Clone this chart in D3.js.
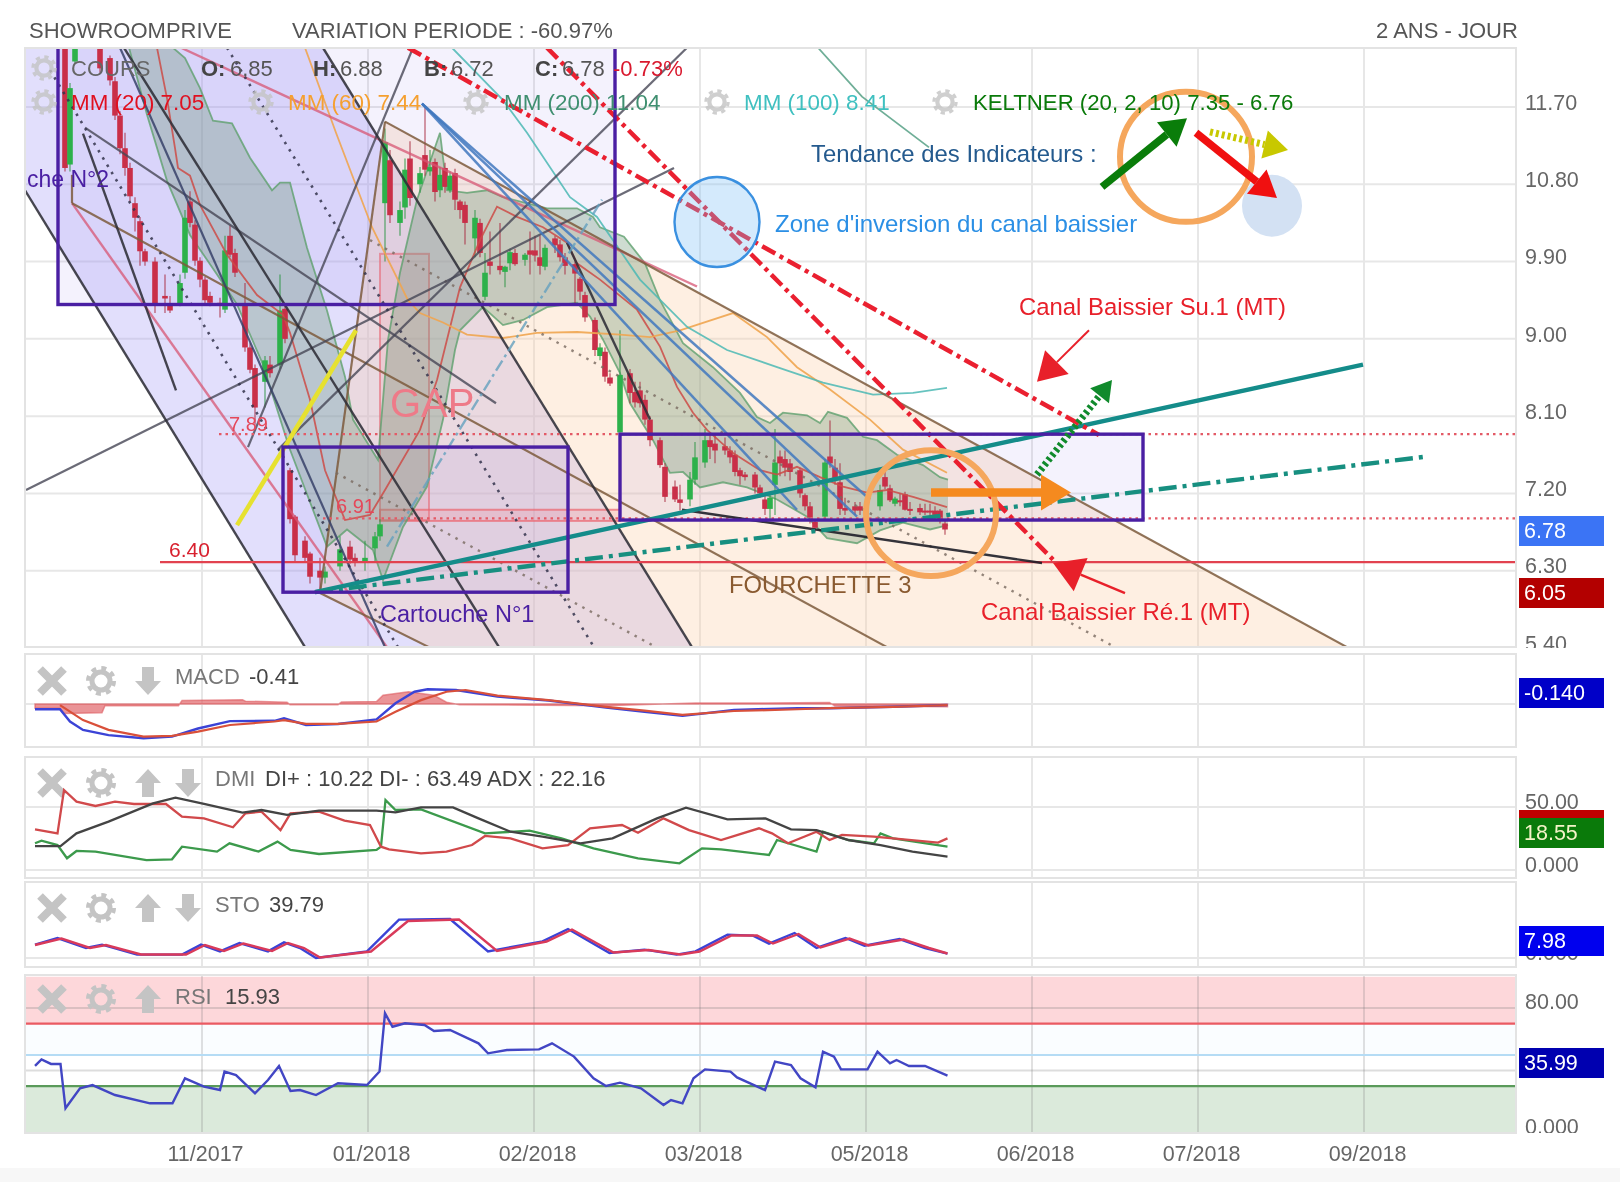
<!DOCTYPE html>
<html><head><meta charset="utf-8">
<script src="https://d3js.org/d3.v7.min.js"></script>
<style>
html,body{margin:0;padding:0;background:#fff}
svg{display:block;filter:blur(0.55px)}
text{font-family:"Liberation Sans",Arial,sans-serif}
</style></head><body>
<svg id="c" width="1620" height="1182"></svg>
<script>
// ---------- tick labels ----------
const tickBars=[33.4,66.6,99.8,133,166.2,199.4,232.6,265.8];
const tickLabels=["11/2017","01/2018","02/2018","03/2018","05/2018","06/2018","07/2018","09/2018"];
const priceTicks=[11.7,10.8,9.9,9,8.1,7.2,6.3,5.4];
// ---------- candles ----------
const candleBar=[6,7,8,13,15,16,17,18,19,20,21,22,24,26,27,29,30,31,32,33,34,35,37,38,39,40,42,43,44,46,47,49,50,51,52,54,55,57,58,61,63,64,66,68,69,70,71,73,74,75,77,78,79,80,81,82,83,84,85,86,88,89,90,91,93,94,95,96,98,99,100,101,102,104,105,106,108,109,110,112,113,114,115,117,119,120,121,122,123,125,126,128,129,131,132,134,135,136,138,139,140,141,142,144,145,146,147,148,149,150,151,153,154,155,156,158,159,160,161,162,164,165,169,170,171,172,173,174,175,177,178,179,180,181,182];
const candleOpen=[12.6,11.03,12.23,12.5,12.27,12,11.6,11.22,10.99,10.58,10.37,10.02,9.9,9.5,9.4,9.4,9.77,10.6,10.33,9.91,9.69,9.5,9.42,9.34,10.2,10,9.4,8.9,8.66,8.5,8.7,8.7,9.35,7.47,6.93,6.65,6.5,6.3,6.22,6.35,6.58,6.45,6.4,6.56,6.7,10.58,11.08,10.35,10.53,11.1,10.8,11.14,10.95,11.06,10.73,10.99,10.73,10.93,10.6,10.56,10.17,10.35,9.49,9.9,9.85,9.78,9.88,10,9.92,10.03,10.03,9.95,9.84,10.17,10.1,9.95,9.87,9.7,9.51,9.22,8.8,8.85,8.55,7.91,8.6,8.38,8.4,8.29,8.06,7.82,7.51,7.28,7.13,7.13,7.36,7.56,7.82,7.78,7.75,7.7,7.65,7.47,7.42,7.42,7.27,7.13,7.02,7.3,7.63,7.6,7.55,7.47,7.18,7.05,6.87,6.93,7.63,7.5,7.33,7.03,7.05,7.05,7.05,7.39,7.26,7.08,7.12,7.19,7.02,7.03,7,7,7,7,6.85];
const candleHigh=[12.7,11.98,12.6,12.6,12.3,12.05,11.65,11.4,11.05,10.65,10.42,10.05,9.95,9.75,9.5,9.75,10.5,10.72,10.38,9.95,9.72,9.55,9.48,10.2,10.32,10.05,9.65,8.95,8.7,8.8,8.8,9.75,9.4,7.5,6.95,6.7,6.52,6.45,6.35,6.7,6.65,6.5,6.65,6.75,6.9,11.45,11.2,10.6,11.1,11.3,11,11.7,11.2,11.1,11,11.05,10.95,10.98,10.62,10.6,10.5,10.4,10,10.25,10.35,9.85,10.05,10.05,10,10.25,10.2,10.2,10.1,10.2,10.15,10,9.9,9.72,9.55,9.25,8.95,8.9,8.6,9.1,8.65,8.5,8.5,8.35,8.1,7.85,7.55,7.35,7.3,7.45,7.8,7.95,7.9,7.88,7.85,7.75,7.7,7.5,7.45,7.45,7.3,7.2,7.2,7.95,7.7,7.7,7.6,7.5,7.2,7.1,6.9,7.6,8.05,7.6,7.55,7.15,7.1,7.1,7.3,7.5,7.3,7.16,7.2,7.22,7.1,7.08,7.08,7.08,7.05,7.02,6.88];
const candleLow=[10.95,10.95,12.2,12.1,11.95,11.55,11.15,10.9,10.6,10.25,9.85,9.85,9.3,9.3,9.3,9.38,9.7,10.3,9.85,9.6,9.4,9.38,9.25,9.3,9.95,9.72,8.85,8.6,8,8.2,8.55,8.65,8.95,6.85,6.4,6.4,6.15,6.05,6.15,6.3,6.38,6.35,6.3,6.4,6.65,9.9,10.35,10.2,10.4,10.55,10.7,10.9,10.9,10.6,10.65,10.7,10.7,10.5,10.4,10.1,9.95,9.95,9.45,9.75,9.75,9.6,9.8,9.85,9.85,9.75,9.9,9.75,9.8,10,9.9,9.75,9.4,9.45,9.2,8.8,8.75,8.5,8.45,7.91,8.25,8.2,8.2,8,7.75,7.5,7.1,7.1,7,7.05,7.3,7.5,7.6,7.55,7.65,7.55,7.4,7.3,7.35,7.2,7.15,6.95,6.9,6.95,7.4,7.4,7.35,7.15,7,6.85,6.75,6.9,7.5,7.3,6.95,6.95,6.95,6.95,7,7.25,7.1,7.05,7.05,7,6.95,6.95,6.95,6.9,6.9,6.85,6.72];
const candleClose=[10.99,11.92,12.5,12.15,12.01,11.6,11.22,10.99,10.66,10.41,10.02,9.9,9.4,9.47,9.33,9.65,10.41,10.35,9.91,9.69,9.45,9.42,9.4,10.03,9.98,9.77,8.9,8.64,8.2,8.75,8.6,9.33,9,6.9,6.48,6.45,6.23,6.22,6.29,6.55,6.43,6.4,6.45,6.7,6.84,11.29,10.44,10.5,10.97,10.64,10.93,10.97,11,10.71,10.91,10.77,10.9,10.62,10.5,10.35,10.41,10,9.77,9.85,9.8,9.84,10.01,9.87,9.98,9.98,9.97,9.85,10.06,10.09,9.95,9.85,9.76,9.55,9.25,8.87,8.9,8.56,8.48,8.58,8.37,8.26,8.25,8.06,7.82,7.53,7.16,7.13,7.09,7.36,7.62,7.82,7.74,7.7,7.7,7.62,7.45,7.4,7.39,7.27,7.2,7.02,7.15,7.56,7.55,7.5,7.45,7.2,7.05,6.92,6.8,7.56,7.55,7.38,7.02,7,7,7,7.24,7.28,7.12,7.14,7.1,7.01,7,6.98,6.98,6.98,6.95,6.9,6.78];
// ---------- moving averages ----------
const mm20Bar=[24.4,26.4,28,28.6,31,33,38.4,44.4,49.6,51,55,58,62,67,70,77,80.4,85,89,92.4,96.4,101.6,106.4,108.4,113,120.4,125,128.4,131.6,134.4,139.6,145,148.4,152.4,157,161.6,166.4,170.4,175.6,182.4];
const mm20Val=[12.39,11.8,11.22,10.99,10.9,10.56,9.98,9.51,9.28,9.07,8.29,7.47,6.89,6.95,7.24,7.94,8.52,9.6,10.15,10.54,10.42,10.3,10.12,9.88,9.69,9.34,8.91,8.44,8.14,7.94,7.67,7.47,7.42,7.51,7.39,7.28,7.21,7.24,7.16,7.04];
const mm60Bar=[54,60.2,67.4,74.6,77,81.6,86.4,93.6,100.4,108.4,117,123,129,139.6,146.4,152.4,159,167,173.6,182.4];
const mm60Val=[12.39,11.4,10.3,9.45,9.3,9.19,9.05,9.01,9.07,9.08,9.05,9.02,9.1,9.3,9.02,8.67,8.41,8.06,7.71,7.44];
const mm100Bar=[83.4,93.6,98.4,107,112.4,121,130.4,138.4,149,157.6,167.6,175.6,182.4];
const mm100Val=[12.39,11.78,11.4,10.65,10.42,9.69,9.14,8.87,8.66,8.49,8.35,8.37,8.43];
const mm200Bar=[156.6,165.4,178.8];
const mm200Val=[12.39,11.82,11.23];
const keltUpBar=[27.6,30,33,35.6,39.4,43,47.4,49,51,54.4,58.4,62,63.6,68.6,70.6,73,76.4,81,82.4,86.4,90.4,93.6,102.4,108.4,111.6,113,117.8,122,125,129.6,135.6,141,144.4,147,149.6,154.4,157,158.6,162.4,165.6,168.4,172.4,177.6,181,182.6];
const keltUpVal=[12.39,12.27,11.92,11.54,11.51,11.11,10.73,10.82,10.82,10.06,9.33,8.56,8.06,7.59,8.99,9.77,10.62,11.4,10.73,10.7,10.73,10.65,10.52,10.52,10.42,10.3,10.19,9.88,9.45,8.95,8.67,8.37,8.09,8.02,8.14,8.11,8.02,8.15,8.08,7.86,7.82,7.65,7.53,7.39,7.36];
const keltLoBar=[18.8,22.4,26.4,31,36.4,40.4,45.6,50.8,58.4,62.4,67.6,69.6,73.6,78.4,81.6,84,85,89.6,93.6,97.6,102.4,108.4,111,113.6,117,119,123.6,127,129.6,133,137.6,142.4,148.4,154.4,158.4,164.4,169,173.6,179,182.6];
const keltLoVal=[12.39,11.61,10.84,10.21,9.75,9.4,8.7,7.74,6.58,6.78,6.54,6.19,6.81,7.28,8.06,8.87,9.1,9.37,9.16,9.22,9.37,9.42,9.26,8.99,8.6,8.25,7.82,7.44,7.45,7.27,7.33,7.27,7.13,6.93,6.68,6.62,6.77,6.86,6.78,6.83];
// ---------- drawn trend lines: bar, price, bar, price ----------
const darkLines=[[-2,10.73,54,5.41],[57.6,12.39,131.4,5.41],[17.8,12.39,92.8,5.41],[9.6,11.39,28.2,8.4],[106.4,10.12,123,8.06]];
const slateLines=[[17,12.39,70,5.41]];
const greyLines=[[10,11.46,92.2,8.25],[-1.8,7.24,127.8,10.99],[130.4,12.39,48.6,7.71],[75.6,12.39,42.6,7.74]];
const dottedDark=[[38.4,12.39,111.8,5.41],[3,12.13,72.6,5.41]];
const dottedBrown=[[67,10.15,216,5.41],[60.2,7.44,124.2,5.41]];
const brownLines=[[70,11.53,262.4,5.41],[7.4,10.58,170.4,5.41],[7.4,10.91,7.4,10.58],[57,6.04,78.8,5.41],[70,11.53,57,6.04]];
const pinkLines=[[7.4,10.58,70.4,5.41],[29.2,12.39,132.4,9.61]];
const blueFan=[[77.4,11.74,167,7.13],[77.4,11.74,164.4,6.93],[77.4,11.74,152.4,7.01]];
const tealSolid=[[56,6.05,265.6,8.7]];
const tealDash=[[56,6.05,278.4,7.63]];
const lightDash=[[70.4,6.58,113.4,10.62]];
const blackSupport=[[129.4,7.01,201.4,6.39]];
const redDash=[[74.6,12.39,212.8,7.88],[102.4,12.39,203.6,6.43]];
const yellowLine=[[40.4,6.83,64.2,9.1]];
const dottedLevels=[[36.8,7.89,296.2,7.89],[57.6,6.91,296.2,6.91]];
const supportLevel=[[25,6.4,296.2,6.4]];
const lavenderChannel=[[-2,12.39],[57.6,12.39],[131.4,5.41],[54,5.41],[-2,10.73]];
const forkChannel=[[70,11.53],[262.4,5.41],[78.8,5.41],[57,6.04]];
// cartouches: bar0, bar1, price top, price bottom
const cartouches=[[4.6,116,12.6,9.4],[49.6,106.6,7.74,6.05],[117,221.6,7.89,6.89]];
const gapBox=[69,78.8,9.99,6.89];
const gapBand=[69,117,7.01,6.88];
// ellipses: bar, price, bar radius, price radius
const blueCircles=[[136.4,10.36,8.5,.524]];
const paleCircles=[[247.4,10.55,6,.36]];
const orangeRings=[[230.2,11.12,13.2,.757],[179.2,6.97,13,.733]];
// arrows: bar, price, bar, price
const arrowGreen=[213.4,10.77,230.4,11.57];
const arrowRed=[232.2,11.4,248.4,10.64];
const arrowYellow=[235,11.41,250.6,11.2];
const arrowOrange=[179.2,7.21,207.2,7.21];
const arrowGreenDot=[200.4,7.42,215.4,8.52];
const calloutUp=[210.8,9.1,200.4,8.5];
const calloutDown=[218,6.04,203.6,6.39];
// ---------- MACD ----------
const macdBar=[0,5,7,9.6,14.7,21.7,27.4,32.6,39,47.9,49.8,54.2,60.6,68.3,72.1,75.9,78.5,84.2,92.5,102.7,114.2,121.9,129.5,139.8,152.5,158.9,171.6,182.5];
const macdVal=[-.15,-.15,-.5,-.74,-.89,-.98,-.93,-.7,-.49,-.48,-.41,-.6,-.57,-.44,.02,.35,.42,.4,.21,.1,-.1,-.22,-.34,-.17,-.12,-.12,-.08,-.03];
const signalBar=[5,9.6,14.7,21.7,27.4,32.6,39,47.9,49.8,54.2,60.6,68.3,72.1,77.2,82.3,86.1,92.5,102.7,114.2,121.9,129.5,139.8,152.5,158.9,171.6,182.5];
const signalVal=[-.03,-.46,-.74,-.93,-.91,-.79,-.6,-.5,-.46,-.57,-.57,-.5,-.22,.11,.35,.4,.24,.11,-.08,-.19,-.31,-.2,-.15,-.12,-.08,-.03];
const histBar=[0,5,5.8,13.4,14,28.7,29.4,41.5,42.1,50.4,51,60.6,61.3,68.3,69.6,74.7,79.8,82.3,84.9,114.2,132.1,146.1,158.9,160,182.5];
const histVal=[-.12,-.12,-.27,-.25,-.05,-.05,.1,.12,.08,.05,-.02,-.02,.06,.07,.25,.35,.25,.05,-.02,-.05,.03,.03,.04,-.06,-.08];
// ---------- DMI ----------
const diMinusBar=[0,4.5,5.8,8.3,12.1,16,19.8,26.2,29.4,33.8,39.6,42.1,45.3,49.1,51.1,56.8,61.9,67,69.2,70.8,77.2,82.3,87.4,90,95.1,101.5,106.6,111,117.4,120.6,125.7,130.8,137.2,144.8,147.4,150.6,156.3,158.9,161.4,167.8,171.6,180.6,182.5];
const diMinusVal=[32.3,29.1,63.5,54.2,50.8,54.2,52.4,52.4,42.3,41,33.9,45,46.3,31.7,45,46.3,39.2,35.7,18.5,16.4,13.2,14.6,19.8,27,25.1,17.2,19.8,33.1,35.7,29.6,41,31.7,23.8,33.1,29.1,21.2,30.4,23.8,27.8,26.5,25.1,21.7,25.1];
const diPlusBar=[0,1.3,4.5,6.4,8.3,12.1,22.3,27.4,29.4,36.4,38.9,44.7,48.5,51.1,56.8,68.3,69.2,70.1,72.1,77.2,90,98.9,105.3,111.7,120.6,128.9,133.4,137.2,146.8,148.4,156.3,157.6,162.7,167.8,169.1,171.6,182.5];
const diPlusVal=[21.2,23.3,19.8,9.3,15.1,14.6,7.9,8.5,18.5,14.6,21.2,14.6,22.5,15.9,12.7,15.9,18.5,55.6,47.6,48.1,29.1,31.2,25.1,17.2,9.3,5.3,17.2,16.4,11.9,23.8,14.6,30.4,23.8,21.2,29.1,25.1,18.5];
const adxBar=[0,5.1,8.3,14.7,23.6,28.1,33.8,41.5,45.3,50.4,56.8,68.3,72.1,77.2,83.6,88.7,95.1,101.5,109.1,115.5,124.4,130.2,138.5,146.1,151.2,156.3,162.7,169.1,175.5,182.5];
const adxVal=[19,19,29.1,38.4,52.9,57.4,52.4,45.5,47.6,43.7,47.1,47.1,45.8,49.7,49.7,41,30.4,26.5,21.2,25.1,41,49.5,40.2,41,32.3,31.7,23.8,19.8,14.6,10.6];
// ---------- STO ----------
const stoBar=[0,4.5,10.2,13.4,20.4,29.4,33.2,37,40.9,46.6,49.8,53,56.2,66.4,72.8,83,90.6,101.5,106.6,114.9,121.9,128.3,132.1,138.5,143.6,146.8,151.9,156.3,162.1,165.9,172.9,178,182.5];
const stoVal=[26.7,40,20,26.7,6.7,6.7,26.7,13.3,30,13.3,31.3,20,0,13.3,76.7,78,13.3,33.3,58,10,16.7,6.7,13.3,46.7,44.7,28.7,50,20,40,24.7,38,20,8.7];
const stoSigBar=[0,5.3,11,14.2,21.2,30.2,34,37.8,41.7,47.4,50.6,53.8,57,67.2,74.6,84.8,92.4,102.3,107.4,115.7,122.7,129.1,132.9,139.3,144.4,147.6,152.7,157.1,162.9,166.7,173.7,178.8,182.5];
const stoSigVal=[26,39,20,26,7,7,26,14,29,14,30,20,1,13,74,77,14,33,57,11,16,7,13,45,45,29,48,21,39,25,37,20,9];
// ---------- RSI ----------
const rsiBar=[0,1.3,3.2,5.1,6.1,9,11.5,16,23,27.5,30,33.8,37,37.9,40.2,44,46.6,48.8,51.1,53,56.2,60.6,66.4,68.9,70,71.5,74,77.9,79.8,83,88.7,90.6,94.4,100.8,103.4,107.8,111.7,114.2,117,121.2,125.7,127.2,129.5,131.7,134,139.1,140.4,146,148,151.2,153.1,156.1,157.6,159.8,161.2,166.5,168.5,171,172.3,174.8,178,182.5];
const rsiVal=[42.9,47.1,44.2,44.2,15.8,28.6,30.7,24.3,19,19,35,29.7,27.5,39.3,37.1,25.4,33.9,42.9,26.9,27.5,24.3,31.8,30.7,39.3,76.6,68,70.2,69.1,65.3,65.9,57.4,51,53.1,53.5,57.4,48.9,35,30.1,32.2,28.6,17.9,21.1,19,35,40.7,39.3,35.6,27.5,45.7,43.5,35,29.2,52.1,48.9,40.7,40.7,52.1,44.6,46.7,42.9,42.9,36.7];

// ================= drawing =================
const svg=d3.select("#c");
const PL=25,PR=1516;
const x=d3.scaleLinear().domain([0,296.2]).range([35,PR]);
const yP=d3.scaleLinear().domain([11.7,5.4]).range([107,648]);
const yM=d3.scaleLinear().domain([0,-1]).range([704,739]);
const yD=d3.scaleLinear().domain([50,0]).range([807,870]);
const yS=d3.scaleLinear().domain([0,80]).range([958,918]);
const yR=d3.scaleLinear().domain([80,0]).range([1008,1133]);
const GRID="#e7e7e7";

svg.append("rect").attr("x",0).attr("y",1168).attr("width",1620).attr("height",14).attr("fill","#f7f7f7");
const panels=[[48,647],[654,747],[757,878],[882,967],[975,1133]];
const defs=svg.append("defs");
panels.forEach((p,i)=>defs.append("clipPath").attr("id","clip"+i).append("rect").attr("x",PL).attr("y",p[0]).attr("width",PR-PL).attr("height",p[1]-p[0]));

panels.forEach(p=>svg.append("rect").attr("x",PL).attr("y",p[0]).attr("width",PR-PL).attr("height",p[1]-p[0]).attr("fill","#fff"));
svg.append("rect").attr("x",PL).attr("y",yR(100)).attr("width",PR-PL).attr("height",yR(70)-yR(100)).attr("fill","#fdd7da").attr("clip-path","url(#clip4)");
svg.append("rect").attr("x",PL).attr("y",yR(70)).attr("width",PR-PL).attr("height",yR(50)-yR(70)).attr("fill","#fafdff");
svg.append("rect").attr("x",PL).attr("y",yR(30)).attr("width",PR-PL).attr("height",yR(0)-yR(30)).attr("fill","#dbeadb");

function grid(i,yScale,vals){
  const p=panels[i];
  const g=svg.append("g").attr("clip-path","url(#clip"+i+")");
  g.selectAll("line.v").data(tickBars).join("line").attr("x1",d=>x(d)).attr("x2",d=>x(d)).attr("y1",p[0]).attr("y2",p[1]).attr("stroke",i===4?"rgba(120,120,120,.22)":GRID).attr("stroke-width",2);
  g.selectAll("line.h").data(vals).join("line").attr("x1",PL).attr("x2",PR).attr("y1",d=>yScale(d)).attr("y2",d=>yScale(d)).attr("stroke",i===4?"rgba(120,120,120,.25)":GRID).attr("stroke-width",2);
}
grid(0,yP,priceTicks);grid(1,yM,[0]);grid(2,yD,[50,0]);grid(3,yS,[0]);grid(4,yR,[80,40]);

// price chart
const g=svg.append("g").attr("clip-path","url(#clip0)");
const poly=d3.line().x(d=>x(d[0])).y(d=>yP(d[1]));
g.append("path").attr("d",poly(lavenderChannel)+"Z").attr("fill","rgba(165,155,245,.32)");
g.append("path").attr("d",poly(forkChannel)+"Z").attr("fill","rgba(252,205,165,.32)");
g.selectAll("rect.cf").data(cartouches).join("rect").attr("x",d=>x(d[0])).attr("y",d=>yP(d[2])).attr("width",d=>x(d[1])-x(d[0])).attr("height",d=>yP(d[3])-yP(d[2])).attr("fill","rgba(110,90,235,.08)");
g.append("rect").attr("x",x(gapBox[0])).attr("y",yP(gapBox[2])).attr("width",x(gapBox[1])-x(gapBox[0])).attr("height",yP(gapBox[3])-yP(gapBox[2])).attr("fill","rgba(235,130,145,.16)").attr("stroke","rgba(230,110,125,.65)").attr("stroke-width",2);
g.append("rect").attr("x",x(gapBand[0])).attr("y",yP(gapBand[2])).attr("width",x(gapBand[1])-x(gapBand[0])).attr("height",yP(gapBand[3])-yP(gapBand[2])).attr("fill","rgba(240,130,140,.22)").attr("stroke","rgba(235,100,110,.7)").attr("stroke-width",2);
const kUp=d3.zip(keltUpBar,keltUpVal), kLo=d3.zip(keltLoBar,keltLoVal);
g.append("path").attr("d",poly(kUp.concat(kLo.slice().reverse()))+"Z").attr("fill","rgba(105,150,115,.33)");
[kUp,kLo].forEach(k=>g.append("path").attr("d",poly(k)).attr("fill","none").attr("stroke","rgba(95,160,110,.8)").attr("stroke-width",1.8));
// candles
const candles=candleBar.map((b,i)=>({b,o:candleOpen[i],h:candleHigh[i],l:candleLow[i],c:candleClose[i]}));
const colour=d=>d.c>=d.o?"#2db14b":"#c92f48";
g.selectAll("line.w").data(candles).join("line").attr("x1",d=>x(d.b)).attr("x2",d=>x(d.b)).attr("y1",d=>yP(d.h)).attr("y2",d=>yP(d.l)).attr("stroke",d=>d3.color(colour(d)).darker(.5)).attr("stroke-opacity",.65).attr("stroke-width",1.4);
g.selectAll("rect.b").data(candles).join("rect").attr("x",d=>x(d.b)-2.8).attr("width",5.6).attr("y",d=>yP(Math.max(d.o,d.c))).attr("height",d=>Math.max(2,Math.abs(yP(d.o)-yP(d.c)))).attr("fill",colour);
function series(bars,vals,col,w){g.append("path").attr("d",poly(d3.zip(bars,vals))).attr("fill","none").attr("stroke",col).attr("stroke-width",w);}
series(mm20Bar,mm20Val,"rgba(205,75,70,.85)",1.8);
series(mm60Bar,mm60Val,"rgba(240,165,80,.9)",1.8);
series(mm100Bar,mm100Val,"rgba(75,185,180,.85)",1.8);
series(mm200Bar,mm200Val,"rgba(95,165,140,.9)",1.8);
function lines(data,col,w,dash){
  g.selectAll(null).data(data).join("line").attr("x1",d=>x(d[0])).attr("y1",d=>yP(d[1])).attr("x2",d=>x(d[2])).attr("y2",d=>yP(d[3])).attr("stroke",col).attr("stroke-width",w).attr("stroke-dasharray",dash||null);
}
lines(pinkLines,"rgba(215,85,115,.75)",2.4);
lines(brownLines,"rgba(125,90,60,.85)",2.2);
lines(dottedBrown,"rgba(120,105,95,.8)",2.4,"2.5 6");
lines(greyLines,"rgba(70,70,85,.8)",2.2);
lines(slateLines,"rgba(55,65,105,.85)",2.2);
lines(darkLines,"rgba(45,45,55,.88)",2.4);
lines(dottedDark,"rgba(50,50,75,.85)",2.6,"2.5 6");
lines(blueFan,"rgba(65,120,190,.85)",2.5);
lines(lightDash,"rgba(100,160,190,.8)",2.4,"12 4 3 4");
lines(dottedLevels,"#e35a66",2.2,"2.5 4");
lines(supportLevel,"#e2424f",2.2);
lines(yellowLine,"#e6e130",4.5);
lines(blackSupport,"rgba(30,30,40,.9)",2.4);
lines(tealSolid,"#148c8a",4.4);
lines(tealDash,"#178f80",4.4,"18 6 4 6");
lines(redDash,"#ea2030",4.5,"15 5 4 5");
g.selectAll("rect.cs").data(cartouches).join("rect").attr("x",d=>x(d[0])).attr("y",d=>yP(d[2])).attr("width",d=>x(d[1])-x(d[0])).attr("height",d=>yP(d[3])-yP(d[2])).attr("fill","none").attr("stroke","#4a1fa3").attr("stroke-width",3.4);
function ells(data,fill,stroke,w){
  svg.append("g").selectAll("ellipse").data(data).join("ellipse").attr("cx",d=>x(d[0])).attr("cy",d=>yP(d[1])).attr("rx",d=>x(d[2])-x(0)).attr("ry",d=>yP(0)-yP(d[3])).attr("fill",fill).attr("stroke",stroke).attr("stroke-width",w);
}
ells(paleCircles,"#d3e1f3","none",0);
ells(blueCircles,"rgba(120,190,245,.32)","#3a90e0",2.4);
ells(orangeRings,"none","#f5a75d",6);
function arrow(a,col,w,head,dash){
  const x0=x(a[0]),y0=yP(a[1]),x1=x(a[2]),y1=yP(a[3]);
  const ang=Math.atan2(y1-y0,x1-x0),c=Math.cos(ang),s=Math.sin(ang);
  const bx=x1-head*c,by=y1-head*s,hw=head*.6;
  svg.append("line").attr("x1",x0).attr("y1",y0).attr("x2",bx).attr("y2",by).attr("stroke",col).attr("stroke-width",w).attr("stroke-dasharray",dash||null);
  svg.append("path").attr("d",d3.line()([[x1,y1],[bx-hw*s,by+hw*c],[bx+hw*s,by-hw*c]])+"Z").attr("fill",col);
}
arrow(arrowGreen,"#0a7d0a",7.5,26);
arrow(arrowRed,"#f01010",7.5,26);
arrow(arrowYellow,"#c8c800",7,24,"3 3");
arrow(arrowOrange,"#f58a1f",8.5,30);
arrow(arrowGreenDot,"#108a2c",7,20,"3 3");
arrow(calloutUp,"#e8202a",2,28);
arrow(calloutDown,"#e8202a",2.4,30);

function T(s,px,py,fs,col,opt){const t=svg.append("text").attr("x",px).attr("y",py).attr("font-size",fs).attr("fill",col).text(s);if(opt&&opt.w)t.attr("font-weight",opt.w);return t;}
T("SHOWROOMPRIVE",29,38,22,"#555");
T("VARIATION PERIODE : -60.97%",292,38,22,"#555");
T("2 ANS - JOUR",1376,38,22,"#555");
T("COURS",71,76,22,"#666");
T("O:",201,76,22,"#444",{w:"bold"});T("6.85",230,76,22,"#555");
T("H:",313,76,22,"#444",{w:"bold"});T("6.88",340,76,22,"#555");
T("B:",424,76,22,"#444",{w:"bold"});T("6.72",451,76,22,"#555");
T("C:",535,76,22,"#444",{w:"bold"});T("6.78",562,76,22,"#555");
T("-0.73%",613,76,22,"#d9182d");
T("MM (20)  7.05",71,110,22.4,"#e01020");
T("MM (60)  7.44",288,110,22.4,"#f5a030");
T("MM (200)  11.04",504,110,22.4,"#3f8f70");
T("MM (100)  8.41",744,110,22.4,"#3fc0c0");
T("KELTNER (20, 2, 10)  7.35 - 6.76",973,110,22.2,"#0a7a0a");
T("Tendance des Indicateurs :",811,162,23.9,"#245a8e");
T("Zone d'inversion du canal baissier",775,232,24,"#2b8fe5");
T("che N°2",27,187,23,"#4a1fa3");
T("Cartouche N°1",380,622,23.5,"#4a1fa3");
T("FOURCHETTE 3",729,593,23.8,"#8a5a30");
T("Canal Baissier Su.1 (MT)",1019,315,23.9,"#e8202a");
T("Canal Baissier Ré.1 (MT)",981,620,24,"#e8202a");
T("GAP",390,417,40,"#ee7a88");
T("7.89",229,431,20,"#e5485a");
T("6.91",336,513,20,"#e5485a");
T("6.40",169,557,21,"#d8202e");
function gear(cx,cy,sc,op){
  const a=svg.append("g").attr("transform",`translate(${cx},${cy})`).attr("opacity",op||1);
  a.append("circle").attr("r",9*sc).attr("fill","none").attr("stroke","#c4c4c4").attr("stroke-width",5*sc);
  a.append("circle").attr("r",13*sc).attr("fill","none").attr("stroke","#c4c4c4").attr("stroke-width",4*sc).attr("stroke-dasharray",`${5*sc} ${5.2*sc}`);
}
[[44,68],[44,102],[261,102],[476,102],[717,102],[945,102]].forEach(p=>gear(p[0],p[1],.85,.8));
function cross(cx,cy){svg.append("path").attr("d",`M${cx-12},${cy-12}L${cx+12},${cy+12}M${cx+12},${cy-12}L${cx-12},${cy+12}`).attr("stroke","#c4c4c4").attr("stroke-width",8);}
function arrowIcon(cx,cy,dir){const s=dir;svg.append("path").attr("d",d3.line()([[cx-6,cy-14*s],[cx+6,cy-14*s],[cx+6,cy],[cx+13,cy],[cx,cy+14*s],[cx-13,cy],[cx-6,cy]])+"Z").attr("fill","#c4c4c4");}
function iconRow(cy,arrs){cross(52,cy);gear(101,cy,1);arrs.forEach(a=>arrowIcon(a[0],cy,a[1]));}
iconRow(681,[[148,1]]);iconRow(783,[[148,-1],[188,1]]);iconRow(908,[[148,-1],[188,1]]);iconRow(999,[[148,-1]]);
T("MACD",175,684,22,"#777");T("-0.41",249,684,22,"#444");
T("DMI",215,786,22,"#777");T("DI+ : 10.22 DI- : 63.49 ADX : 22.16",265,786,22,"#444");
T("STO",215,912,22,"#777");T("39.79",269,912,22,"#444");
T("RSI",175,1004,22,"#777");T("15.93",225,1004,22,"#444");

const gm=svg.append("g").attr("clip-path","url(#clip1)");
const lm=d3.line().x(d=>x(d[0])).y(d=>yM(d[1]));
gm.append("path").attr("d",d3.area().x(d=>x(d[0])).y0(yM(0)).y1(d=>yM(d[1]))(d3.zip(histBar,histVal))).attr("fill","rgba(222,90,95,.65)").attr("stroke","rgba(222,90,95,.6)").attr("stroke-width",1.5);
gm.append("path").attr("d",lm(d3.zip(macdBar,macdVal))).attr("fill","none").attr("stroke","#3b43d6").attr("stroke-width",2.4);
gm.append("path").attr("d",lm(d3.zip(signalBar,signalVal))).attr("fill","none").attr("stroke","#d9503a").attr("stroke-width",2.2);
const gd=svg.append("g").attr("clip-path","url(#clip2)");
const ld=d3.line().x(d=>x(d[0])).y(d=>yD(d[1]));
[[diPlusBar,diPlusVal,"#3c9a4c"],[diMinusBar,diMinusVal,"#d1494b"],[adxBar,adxVal,"#444"]].forEach(s=>gd.append("path").attr("d",ld(d3.zip(s[0],s[1]))).attr("fill","none").attr("stroke",s[2]).attr("stroke-width",2.3));
const gs=svg.append("g").attr("clip-path","url(#clip3)");
const ls=d3.line().x(d=>x(d[0])).y(d=>yS(d[1]));
gs.append("path").attr("d",ls(d3.zip(stoBar,stoVal))).attr("fill","none").attr("stroke","#3b43d6").attr("stroke-width",2.4);
gs.append("path").attr("d",ls(d3.zip(stoSigBar,stoSigVal))).attr("fill","none").attr("stroke","#d93a5a").attr("stroke-width",2.4);
const gr=svg.append("g").attr("clip-path","url(#clip4)");
gr.append("line").attr("x1",PL).attr("x2",PR).attr("y1",yR(70)).attr("y2",yR(70)).attr("stroke","#ea5a62").attr("stroke-width",2.2);
gr.append("line").attr("x1",PL).attr("x2",PR).attr("y1",yR(50)).attr("y2",yR(50)).attr("stroke","#b5dcf5").attr("stroke-width",2);
gr.append("line").attr("x1",PL).attr("x2",PR).attr("y1",yR(30)).attr("y2",yR(30)).attr("stroke","#5a9a5a").attr("stroke-width",2.2);
gr.append("path").attr("d",d3.line().x(d=>x(d[0])).y(d=>yR(d[1]))(d3.zip(rsiBar,rsiVal))).attr("fill","none").attr("stroke","#4246c4").attr("stroke-width",2.4);

panels.forEach(p=>svg.append("rect").attr("x",PL).attr("y",p[0]).attr("width",PR-PL).attr("height",p[1]-p[0]).attr("fill","none").attr("stroke","#e3e3e3").attr("stroke-width",2));

const ax=svg.append("g").attr("transform","translate(3,1161)").call(d3.axisBottom(x).tickValues(tickBars).tickFormat((d,i)=>tickLabels[i]).tickSize(0));
ax.select(".domain").remove();
ax.selectAll("text").attr("y",0).attr("dy",0).attr("font-size",21.5).attr("fill","#666").attr("font-family","Liberation Sans");
function yAxis(scale,vals,fmt,dy){
  const n=svg.append("g").attr("transform",`translate(${PR+9},0)`).call(d3.axisRight(scale).tickValues(vals).tickFormat(fmt).tickSize(0));
  n.select(".domain").remove();
  n.selectAll("text").attr("x",0).attr("dy",dy).attr("font-size",21.5).attr("fill","#666").attr("font-family","Liberation Sans");
}
yAxis(yP,priceTicks,d3.format(".2f"),".1em");
svg.append("rect").attr("x",PR+4).attr("y",648).attr("width",100).attr("height",8).attr("fill","#fff");
yAxis(yD,[50,0],d=>d===50?"50.00":"0.000",".08em");
yAxis(yS,[0],()=>"0.000",".08em");
yAxis(yR,[80,0],d=>d===80?"80.00":"0.000",".04em");
svg.append("rect").attr("x",PR+4).attr("y",1133).attr("width",100).attr("height",8).attr("fill","#fff");
svg.append("rect").attr("x",PR+4).attr("y",967).attr("width",100).attr("height",8).attr("fill","#fff");
function tag(y0,y1,col,txt,tc){
  svg.append("rect").attr("x",1519).attr("y",y0).attr("width",85).attr("height",y1-y0).attr("fill",col);
  if(txt)T(txt,1524,y1-8.5,21.5,tc||"#fff");
}
tag(516,546,"#3b74f5","6.78");
tag(578,608,"#b30000","6.05");
tag(678,708,"#0000c8","-0.140");
tag(810,840,"#c00000","");
tag(818,848,"#0a7a0a","18.55","#f4f4c8");
tag(926,956,"#0000ee","7.98");
tag(1048,1078,"#0000b0","35.99");
</script>
</body></html>
